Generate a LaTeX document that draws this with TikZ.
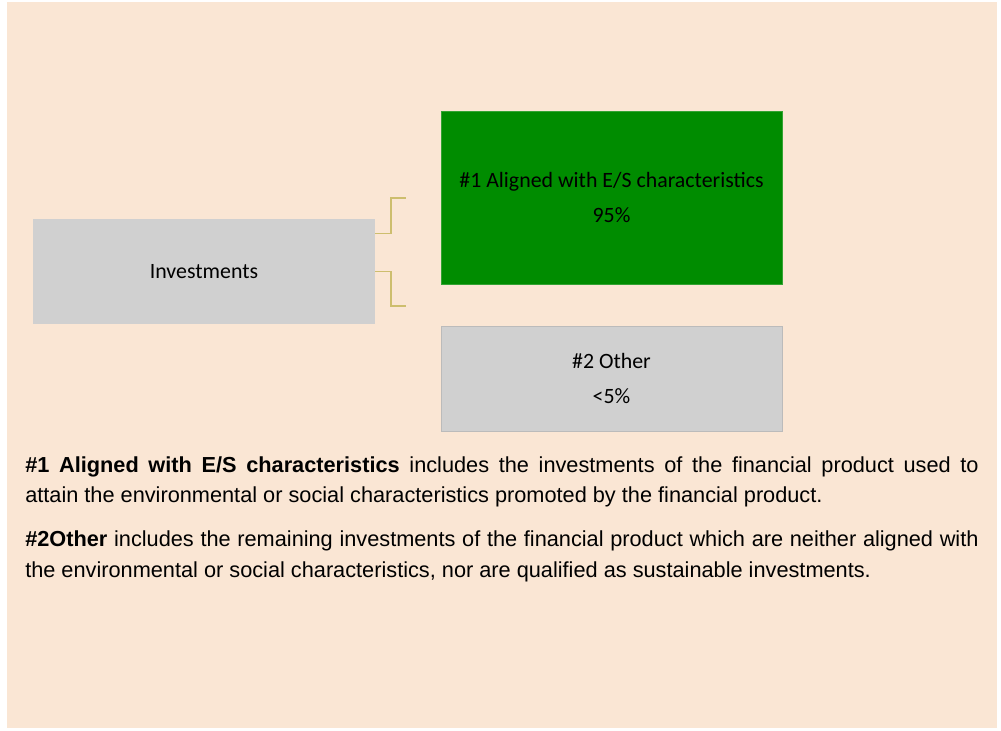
\documentclass[tikz,border=0pt]{standalone}
\usepackage{fontspec}
\setmainfont{Liberation Sans}
\newfontfamily\boxfont{Carlito}
\usetikzlibrary{positioning}
\definecolor{peach}{RGB}{250,230,212}
\definecolor{boxgray}{RGB}{208,208,208}
\definecolor{boxgreen}{RGB}{0,140,0}
\definecolor{khaki}{RGB}{205,190,110}

\begin{document}
\begin{tikzpicture}[x=0.75pt,y=-0.75pt,
    box/.style={rectangle,fill=boxgray,draw=boxgray!90!black,line width=0.6pt,
      minimum width=255.75pt,align=center,font=\boxfont\fontsize{16.4}{26}\selectfont},
    bracket/.style={draw=khaki,line width=1.1pt}]
  \useasboundingbox (0,0) rectangle (1001,731);
  \fill[peach] (7,2) rectangle (997,728);

  \node[box,minimum width=256.5pt,minimum height=78.75pt,draw=none] (inv) at (204,271.5) {Investments};
  \node[box,fill=boxgreen,draw=boxgreen!80!white,minimum height=129.75pt] (aligned) at (611.5,197.5)
    {\#1 Aligned with E/S characteristics\\95\%};
  \node[box,minimum height=78.75pt] (other) at (611.5,378.5) {\#2 Other\\<5\%};

  \coordinate (up) at (406,198);
  \coordinate (down) at (406,306);
  \draw[bracket] ([yshift=28.5pt]inv.east) -| (391,198) -- (up);
  \draw[bracket] (inv.east) -| (391,306) -- (down);

  \node[anchor=north west,text width=715pt,align=justify,inner sep=0pt,
    font=\fontsize{16.3}{23}\selectfont] (notes) at (25,456) {%
    \textbf{\#1 Aligned with E/S characteristics} includes the investments of the financial product used to\linebreak attain the environmental or social characteristics promoted by the financial product.\par\vspace{10pt}
    \textbf{\#2Other} includes the remaining investments of the financial product which are neither aligned with the environmental or social characteristics, nor are qualified as sustainable investments.};
\end{tikzpicture}
\end{document}
